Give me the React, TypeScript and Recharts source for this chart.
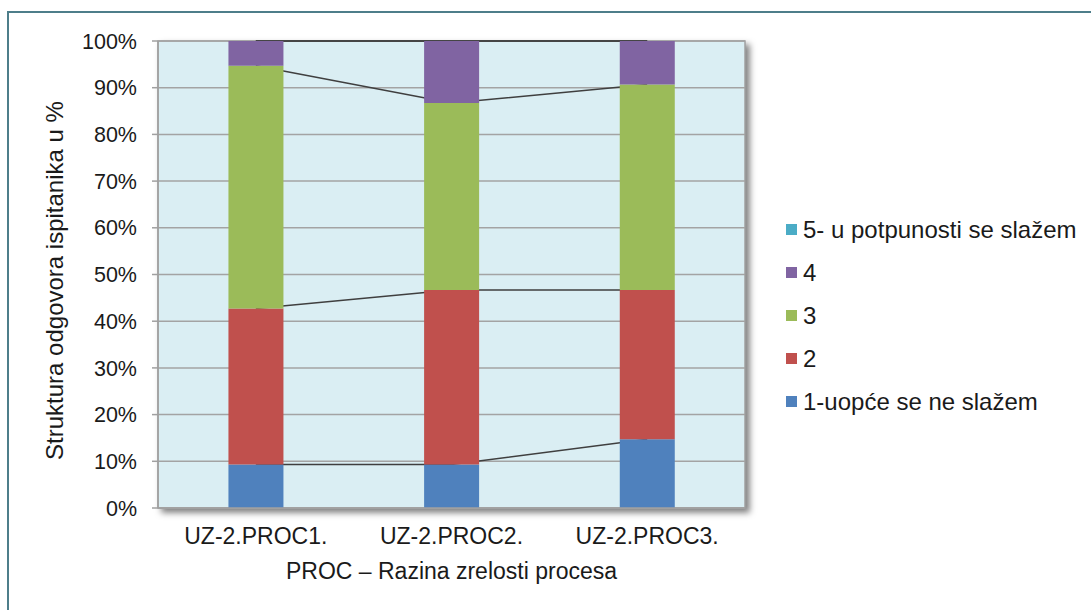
import { ComposedChart, Bar, Line, XAxis, YAxis, CartesianGrid, Legend, Label } from 'recharts';

const categories = ['UZ-2.PROC1.', 'UZ-2.PROC2.', 'UZ-2.PROC3.'];
const seriesNames = ['1-uopće se ne slažem', '2', '3', '4', '5- u potpunosti se slažem'];
const answer1 = [9.3, 9.3, 14.7];
const answer2 = [33.4, 37.4, 32.0];
const answer3 = [52.0, 40.0, 44.0];
const answer4 = [5.3, 13.3, 9.3];
const answer5 = [0, 0, 0];
const yTicks = [0, 10, 20, 30, 40, 50, 60, 70, 80, 90, 100];

const COLORS = ['#4f81bd', '#c0504d', '#9bbb59', '#8064a2', '#4bacc6'];
const FONT = '"Liberation Sans", Arial, sans-serif';

const series = [answer1, answer2, answer3, answer4, answer5];

// one row per category: segment values s0..s4 plus running tops c0..c4 for the series lines
const data = categories.map((name, i) => {
  const row: Record<string, string | number> = { name };
  let sum = 0;
  series.forEach((vals, k) => {
    sum += vals[i];
    row['s' + k] = vals[i];
    row['c' + k] = sum;
  });
  return row;
});

function YTitle(props: any) {
  const vb = props.viewBox;
  const x = vb.x + 63;
  const y = vb.y + vb.height / 2 + 6;
  return (
    <text x={x} y={y} transform={`rotate(-90, ${x}, ${y})`} textAnchor="middle" fontSize={24} fontFamily={FONT} fill="#1a1a1a">
      Struktura odgovora ispitanika u %
    </text>
  );
}

function LegendBox(props: any) {
  // only the bar series go in the legend, 5 on top down to 1
  const items = (props.payload || [])
    .filter((it: any) => seriesNames.includes(it.value))
    .sort((a: any, b: any) => seriesNames.indexOf(b.value) - seriesNames.indexOf(a.value));
  return (
    <div style={{ fontFamily: FONT, fontSize: 24, color: '#1a1a1a' }}>
      {items.map((it: any) => (
        <div key={it.value} style={{ height: 43, display: 'flex', alignItems: 'center', whiteSpace: 'nowrap' }}>
          <span style={{ width: 11, height: 11, background: it.color, marginRight: 6, display: 'inline-block' }} />
          {it.value}
        </div>
      ))}
    </div>
  );
}

export default function App() {
  return (
    <div style={{ position: 'relative', width: 1091, height: 610, overflow: 'hidden', background: '#fff' }}>
      <style>{`body{margin:0}
.recharts-cartesian-grid-bg{stroke:#a0a0a0;stroke-width:1.5px;filter:drop-shadow(4px 4px 3px rgba(0,0,0,0.5));}`}</style>
      <div style={{ position: 'absolute', left: 7, top: 11, width: 1110, height: 630, border: '2px solid #4e7e8a' }} />
      <div style={{ position: 'absolute', left: 0, top: 0 }}>
        <ComposedChart
          width={1091}
          height={610}
          data={data}
          margin={{ top: 41, right: 346, bottom: 42, left: 0 }}
          barCategoryGap="36%"
        >
          <CartesianGrid vertical={false} stroke="#a3a3a3" strokeWidth={1.5} fill="#daeef3" fillOpacity={1} />
          <XAxis
            dataKey="name"
            height={60}
            tickLine={false}
            tickSize={0}
            tickMargin={20}
            axisLine={{ stroke: '#a0a0a0', strokeWidth: 1.5 }}
            tick={{ fill: '#1a1a1a', fontSize: 23, fontFamily: FONT }}
          >
            <Label value="PROC – Razina zrelosti procesa" position="bottom" offset={-5} fontSize={23} fontFamily={FONT} fill="#1a1a1a" />
          </XAxis>
          <YAxis
            width={158}
            domain={[0, 100]}
            ticks={yTicks}
            interval={0}
            tickFormatter={(v: number) => `${v}%`}
            tickSize={6}
            tickMargin={15}
            tickLine={{ stroke: '#a0a0a0', strokeWidth: 1.5 }}
            axisLine={{ stroke: '#a0a0a0', strokeWidth: 1.5 }}
            tick={{ fill: '#1a1a1a', fontSize: 21.5, fontFamily: FONT }}
          >
            <Label content={<YTitle />} />
          </YAxis>
          <Legend
            layout="vertical"
            align="center"
            verticalAlign="middle"
            wrapperStyle={{ left: 786, top: 208, width: 300 }}
            content={<LegendBox />}
          />
          {series.map((_, k) => (
            <Line
              key={'c' + k}
              dataKey={'c' + k}
              stroke="#3f3f3f"
              strokeWidth={1.5}
              dot={false}
              activeDot={false}
              legendType="none"
              isAnimationActive={false}
              zIndex={250}
            />
          ))}
          {series.map((_, k) => (
            <Bar
              key={'s' + k}
              dataKey={'s' + k}
              name={seriesNames[k]}
              stackId="a"
              fill={COLORS[k]}
              isAnimationActive={false}
            />
          ))}
        </ComposedChart>
      </div>
    </div>
  );
}
